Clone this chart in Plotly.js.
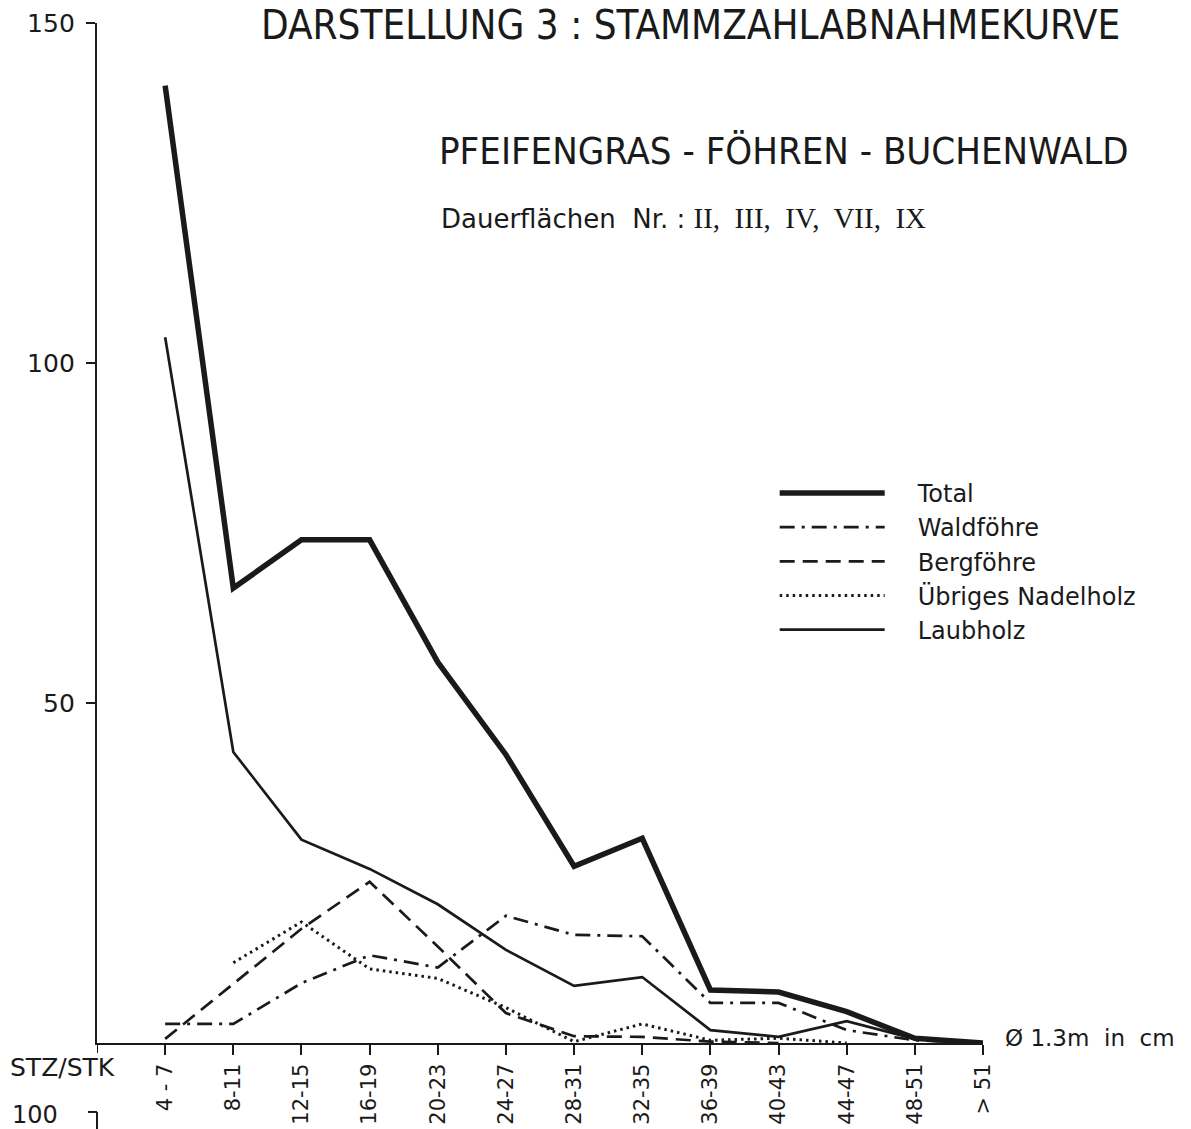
<!DOCTYPE html>
<html>
<head>
<meta charset="utf-8">
<script src="https://cdn.plot.ly/plotly-3.0.1.min.js"></script>
<style>html,body{margin:0;padding:0;background:#fff;}</style>
</head>
<body>
<div id="chart" style="width:1191px;height:1129px;"></div>
<script>
// Diameter classes (cm at 1.3 m)
const categories = ['4 - 7','8-11','12-15','16-19','20-23','24-27','28-31','32-35','36-39','40-43','44-47','48-51','> 51'];
// Stem counts (STZ/STK) per class
const total      = [140.8, 66.9, 74.0, 74.0, 56.0, 42.4, 26.0, 30.1, 7.8, 7.5, 4.6, 0.7, 0];
const waldfoehre = [2.8, 2.8, 8.8, 12.9, 11.1, 18.7, 15.9, 15.7, 5.9, 5.9, 1.9, 0.4, 0];
const bergfoehre = [0.6, 8.7, 16.8, 23.7, 14.2, 4.4, 1.0, 0.9, 0.2, 0, null, null, null];
const uebriges   = [null, 11.8, 17.8, 10.9, 9.5, 5.2, 0.2, 2.8, 0.4, 0.7, 0, null, null];
const laubholz   = [103.8, 42.8, 29.9, 25.6, 20.4, 13.7, 8.4, 9.7, 1.9, 0.9, 3.2, 0.6, 0];
const yTicks = [50, 100, 150];

const F = '"DejaVu Sans", "Liberation Sans", Arial, sans-serif';
const FC = '"DejaVu Sans Condensed", "Liberation Sans Narrow", "DejaVu Sans", sans-serif';
const SERIF = "'Liberation Serif','DejaVu Serif',serif";
const ink = '#1a1a1a';

function tr(name, y, width, dash) {
  return {
    type: 'scatter', mode: 'lines', name: name,
    x: categories, y: y,
    line: {color: ink, width: width, dash: dash},
    cliponaxis: false, connectgaps: false
  };
}
const data = [
  tr('Total', total, 5.5, 'solid'),
  tr('Waldföhre', waldfoehre, 2.7, '15px,7px,3px,7px'),
  tr('Bergföhre', bergfoehre, 2.7, '15px,8px'),
  tr('Übriges Nadelholz', uebriges, 3, '2.5px,4px'),
  tr('Laubholz', laubholz, 2.7, 'solid')
];

const layout = {
  width: 1191, height: 1129,
  margin: {l: 97, r: 208, t: 23, b: 86},
  paper_bgcolor: '#fff', plot_bgcolor: '#fff',
  font: {family: F, color: ink},
  showlegend: true,
  legend: {
    x: 0.757, y: 0.561, xanchor: 'left', yanchor: 'top',
    font: {family: F, size: 24, color: ink},
    bgcolor: 'rgba(0,0,0,0)', itemwidth: 140, tracegroupgap: 0
  },
  xaxis: {
    type: 'category', range: [-1, 12],
    showline: true, linecolor: ink, linewidth: 2.2,
    ticks: 'outside', ticklen: 10, tickwidth: 2, tickcolor: ink,
    tickangle: -90, tickfont: {family: F, size: 21, color: ink},
    showgrid: false, zeroline: false, fixedrange: true
  },
  yaxis: {
    range: [0, 150], tickmode: 'array', tickvals: yTicks,
    showline: true, linecolor: ink, linewidth: 2.2,
    ticks: 'outside', ticklen: 9, tickwidth: 2, tickcolor: ink,
    tickfont: {family: F, size: 25, color: ink}, ticklabelstandoff: 6,
    showgrid: false, zeroline: false, fixedrange: true
  },
  shapes: [
    {type: 'line', xref: 'x', yref: 'paper', x0: -1, x1: -1, y0: 0, y1: -0.0098, line: {color: ink, width: 2}},
    {type: 'line', xref: 'paper', yref: 'paper', x0: -0.0102, x1: 0, y0: -0.0676, y1: -0.0676, line: {color: ink, width: 2}},
    {type: 'line', xref: 'paper', yref: 'paper', x0: 0, x1: 0, y0: -0.0676, y1: -0.09, line: {color: ink, width: 2}}
  ],
  annotations: [
    {text: 'DARSTELLUNG 3 : STAMMZAHLABNAHMEKURVE', xref: 'paper', yref: 'paper', x: 0.670, y: 0.9985,
     xanchor: 'center', yanchor: 'middle', showarrow: false, font: {family: FC, size: 40, color: ink}},
    {text: 'PFEIFENGRAS - FÖHREN - BUCHENWALD', xref: 'paper', yref: 'paper', x: 0.3837, y: 0.875,
     xanchor: 'left', yanchor: 'middle', showarrow: false, font: {family: FC, size: 38, color: ink}},
    {text: 'Dauerflächen  Nr. : <span style="font-family:' + SERIF + ';font-size:29px">II,\u00a0 III,\u00a0 IV,\u00a0 VII,\u00a0 IX</span>',
     xref: 'paper', yref: 'paper', x: 0.386, y: 0.809,
     xanchor: 'left', yanchor: 'middle', showarrow: false, font: {family: F, size: 26, color: ink}},
    {text: 'Ø 1.3m  in  cm', xref: 'paper', yref: 'paper', x: 1.0226, y: 0.005,
     xanchor: 'left', yanchor: 'middle', showarrow: false, font: {family: F, size: 23, color: ink}},
    {text: 'STZ/STK', xref: 'paper', yref: 'paper', x: -0.1005, y: -0.024,
     xanchor: 'left', yanchor: 'middle', showarrow: false, font: {family: F, size: 25, color: ink}},
    {text: '100', xref: 'paper', yref: 'paper', x: -0.0982, y: -0.0706,
     xanchor: 'left', yanchor: 'middle', showarrow: false, font: {family: F, size: 24, color: ink}}
  ]
};

function stretchLegendKeys() {
  document.querySelectorAll('#chart .legend .legendlines path').forEach(function (p) {
    p.setAttribute('d', 'M12,0h105');
  });
}
Plotly.newPlot('chart', data, layout, {staticPlot: true, displayModeBar: false}).then(stretchLegendKeys);
stretchLegendKeys();
</script>
</body>
</html>
